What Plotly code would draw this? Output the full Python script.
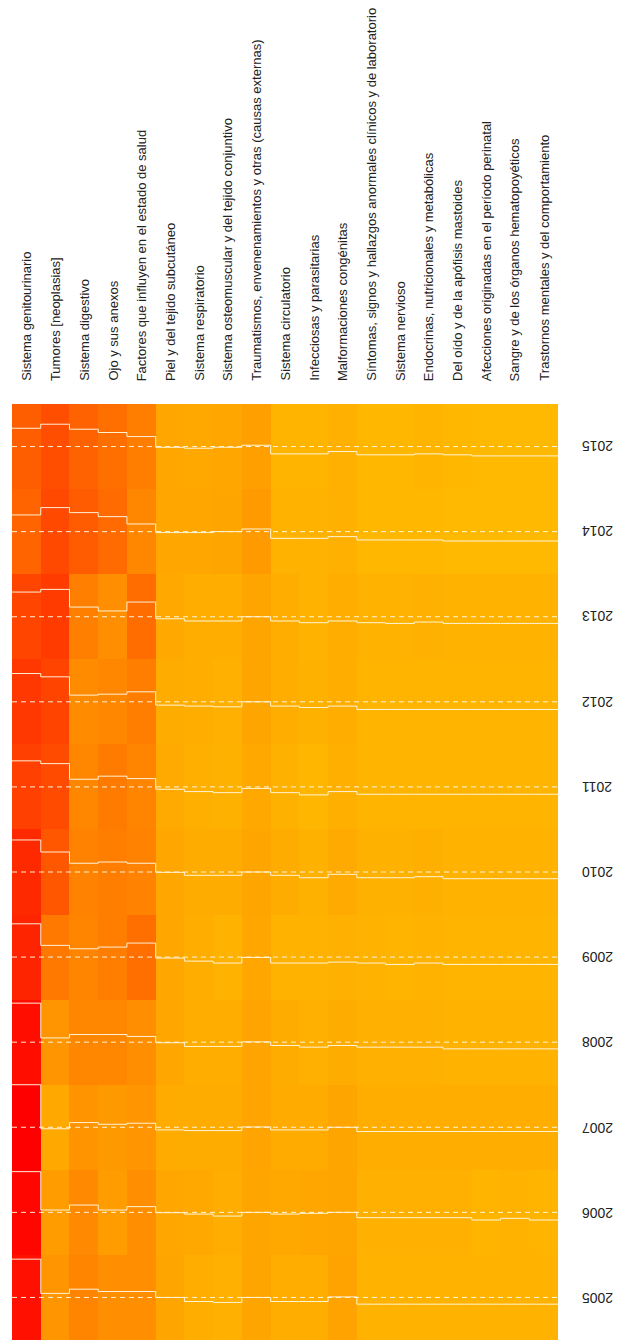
import plotly.graph_objects as go

categories = [
    "Sistema genitourinario",
    "Tumores [neoplasias]",
    "Sistema digestivo",
    "Ojo y sus anexos",
    "Factores que influyen en el estado de salud",
    "Piel y del tejido subcutáneo",
    "Sistema respiratorio",
    "Sistema osteomuscular y del tejido conjuntivo",
    "Traumatismos, envenenamientos y otras (causas externas)",
    "Sistema circulatorio",
    "Infecciosas y parasitarias",
    "Malformaciones congénitas",
    "Síntomas, signos y hallazgos anormales clínicos y de laboratorio",
    "Sistema nervioso",
    "Endocrinas, nutricionales y metabólicas",
    "Del oído y de la apófisis mastoides",
    "Afecciones originadas en el período perinatal",
    "Sangre y de los órganos hematopoyéticos",
    "Trastornos mentales y del comportamiento",
]

years = [2005, 2006, 2007, 2008, 2009, 2010, 2011, 2012, 2013, 2014, 2015]

# column-standardised scores (z) per year, in category order
z_2005 = [3.60, 0.38, 0.78, 0.56, 0.56, 0.00, -0.38, -0.47, 0.00, -0.38, -0.38, 0.05, -0.63, -0.63, -0.63, -0.63, -0.63, -0.63, -0.63]
z_2006 = [3.83, 0.22, 0.69, 0.22, 0.54, -0.03, -0.16, -0.35, 0.00, -0.16, -0.09, 0.00, -0.50, -0.50, -0.50, -0.50, -0.72, -0.56, -0.72]
z_2007 = [4.00, -0.14, 0.44, 0.28, 0.38, -0.25, -0.31, -0.31, 0.03, -0.25, -0.25, 0.00, -0.40, -0.40, -0.40, -0.40, -0.40, -0.40, -0.40]
z_2008 = [3.67, 0.40, 0.72, 0.72, 0.54, -0.05, -0.40, -0.40, 0.03, -0.31, -0.47, -0.31, -0.47, -0.47, -0.47, -0.63, -0.63, -0.63, -0.63]
z_2009 = [3.13, 1.10, 0.78, 0.94, 1.32, -0.09, -0.38, -0.56, -0.03, -0.56, -0.56, -0.47, -0.56, -0.69, -0.56, -0.69, -0.69, -0.69, -0.69]
z_2010 = [3.01, 1.88, 0.82, 0.94, 0.82, -0.03, -0.31, -0.31, 0.00, -0.31, -0.54, -0.22, -0.54, -0.54, -0.44, -0.63, -0.63, -0.63, -0.63]
z_2011 = [2.45, 2.19, 0.72, 1.01, 0.78, -0.22, -0.44, -0.54, -0.14, -0.54, -0.75, -0.44, -0.69, -0.69, -0.69, -0.69, -0.69, -0.69, -0.69]
z_2012 = [2.66, 2.35, 0.63, 0.72, 0.94, -0.31, -0.40, -0.47, 0.00, -0.40, -0.54, -0.40, -0.72, -0.72, -0.72, -0.72, -0.72, -0.72, -0.72]
z_2013 = [2.32, 2.57, 0.91, 0.54, 1.38, -0.19, -0.40, -0.40, 0.00, -0.40, -0.56, -0.40, -0.56, -0.63, -0.50, -0.63, -0.63, -0.63, -0.63]
z_2014 = [1.57, 2.26, 1.79, 1.41, 0.72, -0.09, -0.09, 0.00, 0.25, -0.63, -0.63, -0.47, -0.78, -0.78, -0.78, -0.88, -0.88, -0.88, -0.88]
z_2015 = [1.72, 2.10, 1.63, 1.32, 0.94, -0.07, -0.16, -0.07, 0.12, -0.69, -0.69, -0.47, -0.78, -0.78, -0.69, -0.78, -0.88, -0.88, -0.88]

scores = [z_2005, z_2006, z_2007, z_2008, z_2009, z_2010,
          z_2011, z_2012, z_2013, z_2014, z_2015]

M = 4.0  # symmetric colour / trace breaks range

n = len(categories)
xs = list(range(n))

fig = go.Figure()
fig.add_trace(go.Heatmap(
    z=scores, x=xs, y=years, zmin=-M, zmax=M,
    colorscale=[[0.0, "#FFFF00"], [0.5, "#FFA500"], [1.0, "#FF0000"]],
    showscale=False, hoverinfo="skip", xgap=0, ygap=0,
))

line_col = "rgba(255,248,225,0.95)"
for yr, row in zip(years, scores):
    # dashed reference line (score 0) through the middle of each year
    fig.add_trace(go.Scatter(
        x=[-0.5, n - 0.5], y=[yr, yr], mode="lines",
        line=dict(color=line_col, width=1, dash="5px,4px"),
        hoverinfo="skip", showlegend=False,
    ))
    # step trace of the scores
    tx = [i - 0.5 for i in range(n + 1)]
    ty = [yr + v / (2 * M) for v in row] + [yr + row[-1] / (2 * M)]
    fig.add_trace(go.Scatter(
        x=tx, y=ty, mode="lines", line_shape="hv",
        line=dict(color=line_col, width=1),
        hoverinfo="skip", showlegend=False,
    ))

font_name = "Liberation Sans, Arial, sans-serif"
annotations = []
for i, c in enumerate(categories):
    annotations.append(dict(
        x=i, xref="x", y=1, yref="paper", yshift=21,
        text=c, showarrow=False, textangle=-90,
        xanchor="center", yanchor="bottom",
        font=dict(family=font_name, size=13, color="#222222"),
    ))
for yr in years:
    annotations.append(dict(
        x=n - 0.5, xref="x", xshift=22, y=yr, yref="y",
        text=str(yr), showarrow=False, textangle=180,
        xanchor="left", yanchor="middle",
        font=dict(family=font_name, size=14, color="#222222"),
    ))

fig.update_layout(
    width=621, height=1340,
    margin=dict(l=12, r=63, t=404, b=0),
    paper_bgcolor="white", plot_bgcolor="white",
    xaxis=dict(range=[-0.5, n - 0.5], visible=False, fixedrange=True),
    yaxis=dict(range=[2004.5, 2015.5], visible=False, fixedrange=True),
    annotations=annotations,
    showlegend=False,
)

fig.write_html("out.html")
